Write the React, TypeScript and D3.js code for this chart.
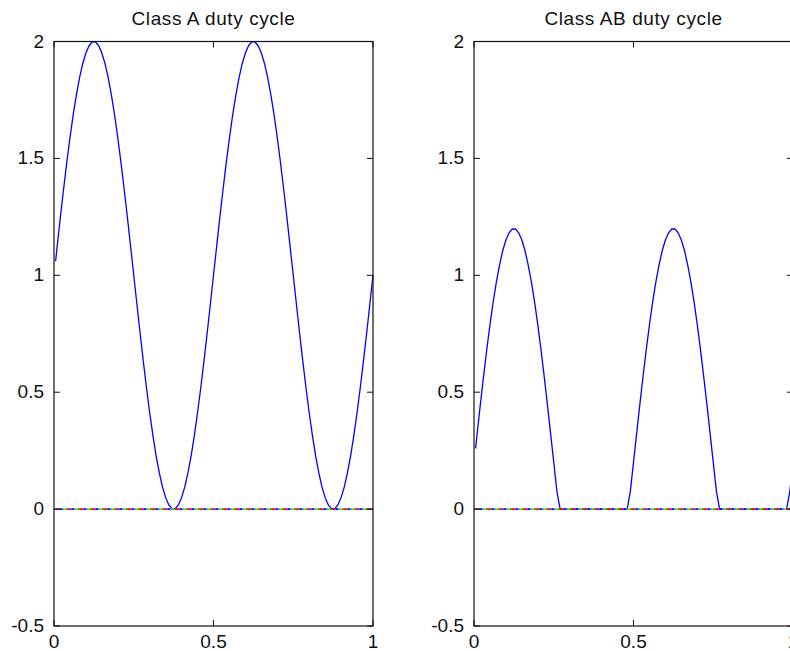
import * as d3 from 'd3'

// sample times (first sample sits just after 0)
const tValues = [
  0.005, 0.01, 0.02, 0.03, 0.04, 0.05, 0.06, 0.07, 0.08, 0.09, 0.1,
  0.11, 0.12, 0.13, 0.14, 0.15, 0.16, 0.17, 0.18, 0.19, 0.2,
  0.21, 0.22, 0.23, 0.24, 0.25, 0.26, 0.27, 0.28, 0.29, 0.3,
  0.31, 0.32, 0.33, 0.34, 0.35, 0.36, 0.37, 0.38, 0.39, 0.4,
  0.41, 0.42, 0.43, 0.44, 0.45, 0.46, 0.47, 0.48, 0.49, 0.5,
  0.51, 0.52, 0.53, 0.54, 0.55, 0.56, 0.57, 0.58, 0.59, 0.6,
  0.61, 0.62, 0.63, 0.64, 0.65, 0.66, 0.67, 0.68, 0.69, 0.7,
  0.71, 0.72, 0.73, 0.74, 0.75, 0.76, 0.77, 0.78, 0.79, 0.8,
  0.81, 0.82, 0.83, 0.84, 0.85, 0.86, 0.87, 0.88, 0.89, 0.9,
  0.91, 0.92, 0.93, 0.94, 0.95, 0.96, 0.97, 0.98, 0.99, 1.0
]

const classA = [
  1.06, 1.125, 1.249, 1.368, 1.482, 1.588, 1.685, 1.771, 1.844, 1.905, 1.951,
  1.982, 1.998, 1.998, 1.982, 1.951, 1.905, 1.844, 1.771, 1.685, 1.588,
  1.482, 1.368, 1.249, 1.125, 1.0, 0.875, 0.751, 0.632, 0.518, 0.412,
  0.315, 0.229, 0.156, 0.095, 0.049, 0.018, 0.002, 0.002, 0.018, 0.049,
  0.095, 0.156, 0.229, 0.315, 0.412, 0.518, 0.632, 0.751, 0.875, 1.0,
  1.125, 1.249, 1.368, 1.482, 1.588, 1.685, 1.771, 1.844, 1.905, 1.951,
  1.982, 1.998, 1.998, 1.982, 1.951, 1.905, 1.844, 1.771, 1.685, 1.588,
  1.482, 1.368, 1.249, 1.125, 1.0, 0.875, 0.751, 0.632, 0.518, 0.412,
  0.315, 0.229, 0.156, 0.095, 0.049, 0.018, 0.002, 0.002, 0.018, 0.049,
  0.095, 0.156, 0.229, 0.315, 0.412, 0.518, 0.632, 0.751, 0.875, 1.0
]

const classAB = [
  0.26, 0.325, 0.449, 0.568, 0.682, 0.788, 0.885, 0.971, 1.044, 1.105, 1.151,
  1.182, 1.198, 1.198, 1.182, 1.151, 1.105, 1.044, 0.971, 0.885, 0.788,
  0.682, 0.568, 0.449, 0.325, 0.2, 0.075, 0, 0, 0, 0,
  0, 0, 0, 0, 0, 0, 0, 0, 0, 0,
  0, 0, 0, 0, 0, 0, 0, 0, 0.075, 0.2,
  0.325, 0.449, 0.568, 0.682, 0.788, 0.885, 0.971, 1.044, 1.105, 1.151,
  1.182, 1.198, 1.198, 1.182, 1.151, 1.105, 1.044, 0.971, 0.885, 0.788,
  0.682, 0.568, 0.449, 0.325, 0.2, 0.075, 0, 0, 0, 0,
  0, 0, 0, 0, 0, 0, 0, 0, 0, 0,
  0, 0, 0, 0, 0, 0, 0, 0, 0.075, 0.2
]

const xTicks = [0, 0.5, 1]
const yTicks = [-0.5, 0, 0.5, 1, 1.5, 2]
const titles = ['Class A duty cycle', 'Class AB duty cycle']
const zeroLineColors = ['#00b000', '#ff0000', '#e000e0', '#0000ff', '#00c0c0', '#d0b000']

const font = '"Liberation Sans", Arial, sans-serif'

function Panel({ left, title, values }: { left: number; title: string; values: number[] }) {
  const top = 41.5
  const bottom = 626
  const w = 319
  const tick = 6

  const x = d3.scaleLinear().domain([0, 1]).range([left, left + w])
  const y = d3.scaleLinear().domain([-0.5, 2]).range([bottom, top])

  const line = d3
    .line<number>()
    .x((_, i) => x(tValues[i]))
    .y(d => y(d))

  const period = zeroLineColors.length * 2

  return (
    <g>
      <text
        x={left + w / 2}
        y={25}
        textAnchor="middle"
        fontFamily={font}
        fontSize={19}
        letterSpacing={0.6}
        fill="#111"
      >
        {title}
      </text>
      <path d={line(values) || ''} fill="none" stroke="#0000ff" strokeWidth={1.3} />
      {zeroLineColors.map((c, i) => (
        <line
          key={c}
          x1={x(0)}
          x2={x(1)}
          y1={y(0)}
          y2={y(0)}
          stroke={c}
          strokeWidth={1.6}
          strokeDasharray={`2 ${period - 2}`}
          strokeDashoffset={-i * 2}
        />
      ))}
      <rect x={x(0)} y={top} width={w} height={bottom - top} fill="none" stroke="#111" strokeWidth={1.2} />
      {xTicks.map(t => (
        <g key={'x' + t}>
          <line x1={x(t)} x2={x(t)} y1={bottom} y2={bottom - tick} stroke="#111" />
          <line x1={x(t)} x2={x(t)} y1={top} y2={top + tick} stroke="#111" />
          <text x={x(t)} y={648} textAnchor="middle" fontFamily={font} fontSize={19} fill="#111">
            {t}
          </text>
        </g>
      ))}
      {yTicks.map(t => (
        <g key={'y' + t}>
          <line x1={left} x2={left + tick} y1={y(t)} y2={y(t)} stroke="#111" />
          <line x1={left + w} x2={left + w - tick} y1={y(t)} y2={y(t)} stroke="#111" />
          <text x={left - 10} y={y(t) + 6} textAnchor="end" fontFamily={font} fontSize={19} fill="#111">
            {t}
          </text>
        </g>
      ))}
    </g>
  )
}

export default function App() {
  return (
    <svg
      width={790}
      height={651}
      style={{ position: 'absolute', left: 0, top: 0, background: '#fff' }}
    >
      <rect width={790} height={651} fill="#fff" />
      <Panel left={54} title={titles[0]} values={classA} />
      <Panel left={474} title={titles[1]} values={classAB} />
    </svg>
  )
}
